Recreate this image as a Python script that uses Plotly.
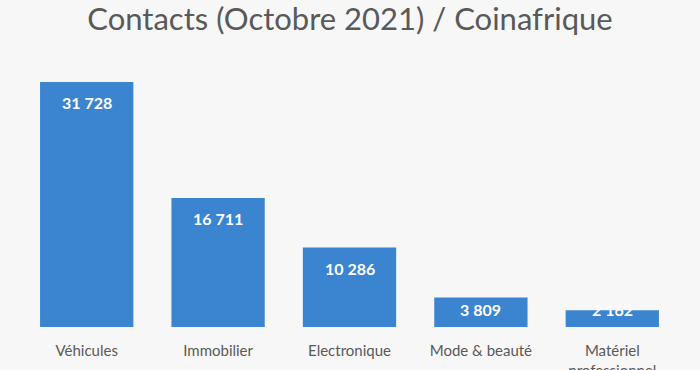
import plotly.graph_objects as go

categories = ["Véhicules", "Immobilier", "Electronique", "Mode & beauté", "Matériel<br>professionnel"]
values = [31728, 16711, 10286, 3809, 2162]
value_labels = ["31 728", "16 711", "10 286", "3 809", "2 162"]
title_text = "Contacts (Octobre 2021) / Coinafrique"

Y_MAX = 36000
PLOT_H = 278  # px height of plot area (370 - t - b)
ppu = PLOT_H / Y_MAX

fig = go.Figure()
fig.add_trace(go.Bar(
    x=categories, y=values,
    marker=dict(color="#3b84cf", line=dict(width=0)),
    hoverinfo="skip",
))

for c, v, lab in zip(categories, values, value_labels):
    h = v * ppu
    center_px = max(h - 21, 18)
    fig.add_annotation(
        x=c, y=center_px / ppu, text=lab, showarrow=False,
        yanchor="middle", xanchor="center",
        font=dict(family="Lato", size=16, color="white", weight="bold"),
    )

fig.update_layout(
    width=700, height=370,
    margin=dict(l=21, r=22, t=49, b=43),
    paper_bgcolor="#f7f7f7",
    plot_bgcolor="rgba(0,0,0,0)",
    bargap=0.29,
    showlegend=False,
    title=dict(text=title_text, x=0.5, xanchor="center", y=0.948, yanchor="middle",
               font=dict(family="Lato", size=31, color="#595959")),
    xaxis=dict(showgrid=False, showline=False, zeroline=False, automargin=False,
               ticks="outside", ticklen=10, tickcolor="rgba(0,0,0,0)",
               tickfont=dict(family="Lato", size=15, color="#595959")),
    yaxis=dict(range=[0, Y_MAX], visible=False, showgrid=False, zeroline=False, automargin=False),
)

fig.write_html("out.html")
